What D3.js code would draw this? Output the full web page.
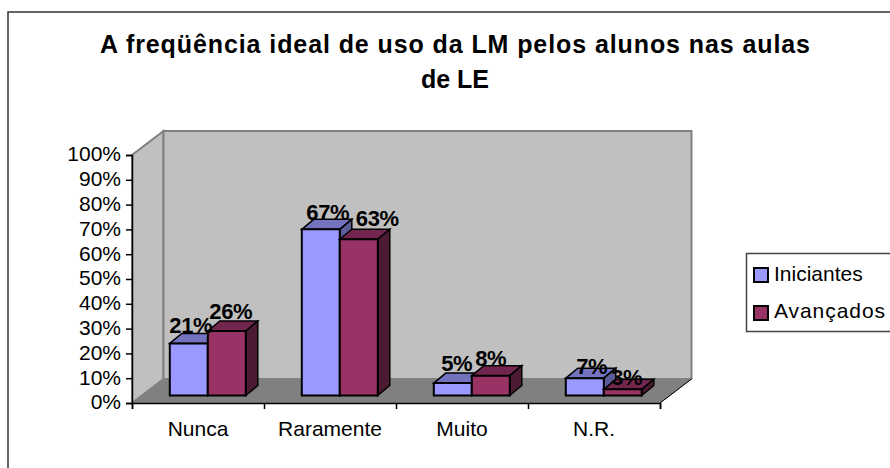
<!DOCTYPE html>
<html><head><meta charset="utf-8">
<script src="https://cdn.jsdelivr.net/npm/d3@7/dist/d3.min.js"></script>
<style>
html,body{margin:0;padding:0;background:#fff;overflow:hidden}
svg{display:block}
text{font-family:"Liberation Sans",Arial,sans-serif;fill:#000}
</style></head><body>
<script>
const titleLines = ["A freqüência ideal de uso da LM pelos alunos nas aulas", "de LE"];
const categories = ["Nunca", "Raramente", "Muito", "N.R."];
const seriesNames = ["Iniciantes", "Avançados"];
const iniciantes = [21, 67, 5, 7];
const avancados = [26, 63, 8, 2.5];
const yTicks = [0,10,20,30,40,50,60,70,80,90,100];
const seriesValues = [iniciantes, avancados];
const colors = [
  {front:"#9999ff", top:"#7373bf", side:"#5c5c99"},
  {front:"#993366", top:"#73264d", side:"#4d1a33"}
];
// label nudges from the bar's top centre, per series then category
const labelNudge = [
  [[2,-10],[7,-9],[4,-12],[7,-4]],
  [[4,-12],[18.5,-13],[0,-10],[4,-4]]
];

const W=890,H=468;
const svg=d3.select("body").append("svg").attr("width",W).attr("height",H);
svg.append("rect").attr("x",8).attr("y",12).attr("width",W+10).attr("height",H+10)
  .attr("fill","#fff").attr("stroke","#333").attr("stroke-width",1.5);

const title=svg.append("g");
titleLines.forEach((t,i)=>{
  const e=title.append("text").attr("x",455).attr("y",[53,88][i])
    .attr("text-anchor","middle").attr("font-size",25).attr("font-weight","bold").text(t);
  if(i==0) e.attr("textLength",710);
});

const x0=132,xEnd=660,y0=403,yTop=155,dX=31.5,dY=-24;
const y=d3.scaleLinear().domain([0,100]).range([y0,yTop]);
const band=d3.scaleBand().domain(categories).range([x0,xEnd]);
const tickPos=d3.scaleLinear().domain([0,categories.length]).range([x0,xEnd]);
const inner=d3.scaleBand().domain(d3.range(seriesNames.length)).range([28,104]);
const h=v=>y0-y(v);

const poly=(pts,fill,stroke,sw)=>svg.append("polygon").attr("points",pts.map(p=>p.join(",")).join(" "))
  .attr("fill",fill).attr("stroke",stroke).attr("stroke-width",sw).attr("stroke-linejoin","miter");

// walls
poly([[x0,y0],[x0+dX,y0+dY],[xEnd+dX,y0+dY],[xEnd,y0]],"#808080","#808080",1);
poly([[x0,y0],[x0,yTop],[x0+dX,yTop+dY],[x0+dX,y0+dY]],"#c0c0c0","#808080",2);
poly([[x0+dX,yTop+dY],[xEnd+dX,yTop+dY],[xEnd+dX,y0+dY],[x0+dX,y0+dY]],"#c0c0c0","#808080",2);
svg.append("line").attr("x1",xEnd).attr("y1",y0).attr("x2",xEnd+dX).attr("y2",y0+dY).attr("stroke","#000").attr("stroke-width",1);

// bars
const planeX=9.8,planeY=-7.5,bX=12,bY=-10;
const labels=[];
categories.forEach((c,ci)=>{
  seriesValues.forEach((vals,si)=>{
    const v=vals[ci];
    const l=band(c)+planeX+inner(si), r=l+inner.bandwidth();
    const b=y0+planeY, t=b-h(v);
    const col=colors[si];
    poly([[l,t],[l+bX,t+bY],[r+bX,t+bY],[r,t]],col.top,"#000",1.5);
    poly([[r,t],[r+bX,t+bY],[r+bX,b+bY],[r,b]],col.side,"#000",1.5);
    poly([[l,t],[r,t],[r,b],[l,b]],col.front,"#000",2);
    const n=labelNudge[si][ci];
    labels.push({v,x:(l+r)/2+n[0],y:t+n[1]});
  });
});
labels.forEach(d=>svg.append("text").attr("x",d.x).attr("y",d.y).attr("text-anchor","middle")
  .attr("font-size",22).attr("font-weight","bold").attr("letter-spacing",-0.3).text(Math.round(d.v)+"%"));

// axes
const yAxis=d3.axisLeft(y).tickValues(yTicks).tickSize(6).tickPadding(5).tickFormat(d=>d+"%");
const gy=svg.append("g").attr("transform",`translate(${x0},0)`).call(yAxis);
gy.selectAll("text").attr("font-size",21).attr("font-family",null).attr("dy","0.28em");
const tickAxis=d3.axisBottom(tickPos).tickValues(d3.range(categories.length+1)).tickSize(6).tickFormat("");
svg.append("g").attr("transform",`translate(0,${y0})`).call(tickAxis);
const catAxis=d3.axisBottom(band).tickSize(0).tickPadding(18);
const gx=svg.append("g").attr("transform",`translate(0,${y0})`).call(catAxis);
gx.select(".domain").remove();
gx.selectAll("text").attr("font-size",21).attr("font-family",null);
svg.selectAll(".domain,.tick line").attr("stroke","#000").attr("stroke-width",1.5);

// legend
const lg=svg.append("g");
lg.append("rect").attr("x",746.5).attr("y",253.5).attr("width",160).attr("height",78).attr("fill","#fff").attr("stroke","#444").attr("stroke-width",1.5);
seriesNames.forEach((n,i)=>{
  lg.append("rect").attr("x",754).attr("y",[268,306][i]).attr("width",14).attr("height",14).attr("fill",colors[i].front).attr("stroke","#000").attr("stroke-width",2);
  const e=lg.append("text").attr("x",774).attr("y",[281,318][i]).attr("font-size",21).text(n);
  if(i==1) e.attr("textLength",111);
});
</script>
</body></html>
